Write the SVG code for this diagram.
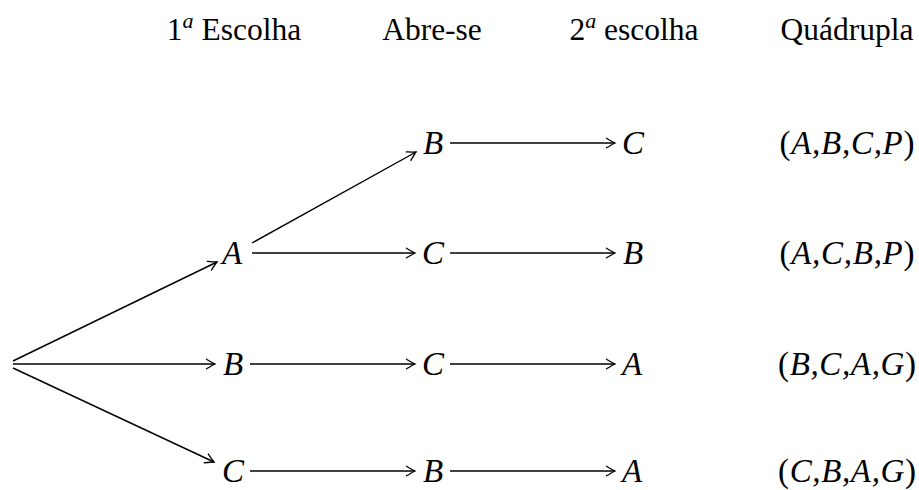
<svg xmlns="http://www.w3.org/2000/svg" width="919" height="490" viewBox="0 0 919 490">
<style>
  .hd { font-family: "Liberation Serif", "Times New Roman", serif; font-size: 31.5px; fill: #000; text-anchor: middle; }
  .m { font-family: "Liberation Serif", "Times New Roman", serif; font-size: 33px; font-style: italic; fill: #000; text-anchor: middle; }
  .up { font-style: normal; }
  .sup { font-style: italic; font-size: 22px; }
  .e { stroke: #000; stroke-width: 1.4; fill: none; marker-end: url(#to); }
</style>
<defs>
  <marker id="to" viewBox="-10 -6 12 12" refX="0" refY="0" markerWidth="12" markerHeight="12" markerUnits="userSpaceOnUse" orient="auto">
    <path d="M -8.5,-4.8 Q -2.5,-1.2 0,0 Q -2.5,1.2 -8.5,4.8" stroke="#000" stroke-width="1.3" fill="none" stroke-linecap="round"/>
  </marker>
</defs>
<g id="headers">
  <text class="hd" x="234" y="40">1<tspan class="sup" dy="-12">a</tspan><tspan dy="12"> Escolha</tspan></text>
  <text class="hd" x="432" y="40">Abre-se</text>
  <text class="hd" x="634" y="40">2<tspan class="sup" dy="-12">a</tspan><tspan dy="12"> escolha</tspan></text>
  <text class="hd" x="847" y="40">Quádrupla</text>
</g>
<g id="connectors">
  <line class="e" x1="13" y1="361" x2="217" y2="262"/>
  <line class="e" x1="13" y1="364" x2="215" y2="364"/>
  <line class="e" x1="13" y1="368" x2="214" y2="462"/>
  <line class="e" x1="252" y1="243" x2="416" y2="152"/>
  <line class="e" x1="252" y1="253" x2="415" y2="253"/>
  <line class="e" x1="450" y1="143" x2="615" y2="143"/>
  <line class="e" x1="450" y1="253" x2="615" y2="253"/>
  <line class="e" x1="250" y1="364" x2="415" y2="364"/>
  <line class="e" x1="450" y1="364" x2="615" y2="364"/>
  <line class="e" x1="250" y1="471" x2="415" y2="471"/>
  <line class="e" x1="450" y1="471" x2="615" y2="471"/>
</g>
<g id="n-A1"><text class="m" x="232" y="264">A</text></g>
<g id="n-B1"><text class="m" x="233" y="375">B</text></g>
<g id="n-C1"><text class="m" x="233" y="482">C</text></g>
<g id="n-B2a"><text class="m" x="433" y="154">B</text></g>
<g id="n-C2b"><text class="m" x="433" y="264">C</text></g>
<g id="n-C2c"><text class="m" x="433" y="375">C</text></g>
<g id="n-B2d"><text class="m" x="433" y="482">B</text></g>
<g id="n-C3a"><text class="m" x="633" y="154">C</text></g>
<g id="n-B3b"><text class="m" x="633" y="264">B</text></g>
<g id="n-A3c"><text class="m" x="632" y="375">A</text></g>
<g id="n-A3d"><text class="m" x="632" y="482">A</text></g>
<g id="tuples">
  <text class="m" x="847" y="154" textLength="135" lengthAdjust="spacing"><tspan class="up">(</tspan>A,B,C,P<tspan class="up">)</tspan></text>
  <text class="m" x="847" y="264" textLength="135" lengthAdjust="spacing"><tspan class="up">(</tspan>A,C,B,P<tspan class="up">)</tspan></text>
  <text class="m" x="847" y="375" textLength="138" lengthAdjust="spacing"><tspan class="up">(</tspan>B,C,A,G<tspan class="up">)</tspan></text>
  <text class="m" x="847" y="482" textLength="138" lengthAdjust="spacing"><tspan class="up">(</tspan>C,B,A,G<tspan class="up">)</tspan></text>
</g>
</svg>
